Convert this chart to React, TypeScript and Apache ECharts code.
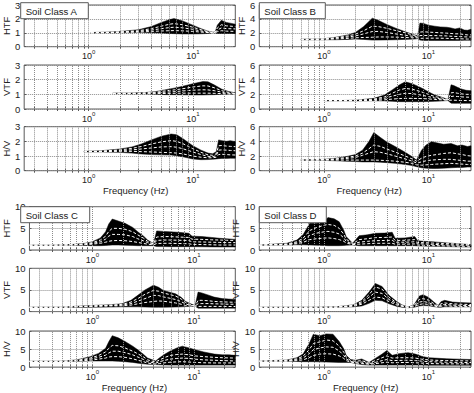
import React, { useEffect, useRef } from "react";
import * as echarts from "echarts";

// ---------- tick / grid values ----------
const gridFreqs = [0.3, 0.4, 0.5, 0.6, 0.7, 0.8, 0.9, 1, 2, 3, 4, 5, 6, 7, 8, 9, 10, 20];
const freqMin = 0.24;
const freqMax = 25.6;
const classNames = ["Soil Class A", "Soil Class B", "Soil Class C", "Soil Class D"];
const rowNames = ["HTF", "VTF", "H/V"];
const yMaxByClass = [3, 6, 10, 10];
const yStepByClass = [1, 2, 5, 5];

// ---------- Soil Class A ----------
const fA_HTF = [1.05, 1.5, 2, 3, 4, 5, 6, 6.6, 8, 10, 12, 14, 15.5, 16.4, 17.2, 18.8, 21, 25.6];
const upA_HTF = [1.02, 1.05, 1.1, 1.22, 1.45, 1.75, 1.95, 2.02, 1.85, 1.55, 1.3, 1.12, 1.05, 1.05, 1.55, 1.9, 1.75, 1.62];
const loA_HTF = [0.98, 1.0, 1.0, 1.02, 1.0, 0.98, 0.95, 0.94, 0.92, 0.92, 0.93, 0.95, 0.98, 0.98, 0.95, 0.95, 0.95, 0.95];
const w1A_HTF = [1.0, 1.03, 1.07, 1.15, 1.3, 1.48, 1.62, 1.66, 1.58, 1.4, 1.22, 1.08, 1.02, 1.02, 1.35, 1.58, 1.5, 1.45];
const w2A_HTF = [1.0, 1.02, 1.05, 1.1, 1.2, 1.3, 1.38, 1.4, 1.36, 1.25, 1.13, 1.05, 1.01, 1.01, 1.2, 1.35, 1.3, 1.28];
const w3A_HTF = [1.0, 1.01, 1.03, 1.05, 1.1, 1.13, 1.15, 1.16, 1.14, 1.1, 1.05, 1.02, 1.0, 1.0, 1.08, 1.15, 1.12, 1.1];

const fA_VTF = [1.7, 2.5, 3.5, 4.5, 5.5, 6.6, 8, 10, 12.5, 14, 16, 19, 22, 25.6];
const upA_VTF = [1.09, 1.09, 1.12, 1.2, 1.32, 1.42, 1.55, 1.72, 1.87, 1.85, 1.65, 1.35, 1.2, 1.1];
const loA_VTF = [1.05, 1.03, 1.02, 1.0, 0.98, 0.98, 0.97, 0.96, 0.96, 0.97, 0.98, 1.0, 1.0, 1.0];
const w1A_VTF = [1.07, 1.07, 1.1, 1.15, 1.24, 1.3, 1.38, 1.5, 1.58, 1.57, 1.45, 1.25, 1.13, 1.06];
const w2A_VTF = [1.06, 1.06, 1.07, 1.1, 1.15, 1.18, 1.23, 1.28, 1.31, 1.3, 1.25, 1.15, 1.08, 1.04];
const w3A_VTF = [1.06, 1.05, 1.04, 1.05, 1.06, 1.07, 1.08, 1.08, 1.08, 1.08, 1.07, 1.05, 1.03, 1.02];

const fA_HV = [0.9, 1.3, 2, 2.6, 3.2, 4, 5, 6.2, 7, 8, 10, 12, 14, 15.5, 16.8, 17.7, 19, 21, 23, 25.6];
const upA_HV = [1.32, 1.36, 1.48, 1.62, 1.82, 2.1, 2.35, 2.5, 2.45, 2.2, 1.7, 1.4, 1.2, 1.15, 1.3, 2.1, 2.05, 2.0, 2.05, 1.98];
const loA_HV = [1.28, 1.28, 1.25, 1.2, 1.14, 1.1, 1.08, 1.07, 1.02, 0.95, 0.8, 0.75, 0.76, 0.78, 0.8, 0.82, 0.84, 0.84, 0.85, 0.85];
const w1A_HV = [1.3, 1.33, 1.42, 1.52, 1.65, 1.82, 1.97, 2.05, 2.0, 1.85, 1.5, 1.25, 1.08, 1.05, 1.15, 1.7, 1.72, 1.68, 1.66, 1.64];
const w2A_HV = [1.3, 1.32, 1.37, 1.42, 1.48, 1.55, 1.62, 1.64, 1.6, 1.5, 1.28, 1.1, 0.98, 0.96, 1.02, 1.4, 1.42, 1.4, 1.38, 1.36];
const w3A_HV = [1.3, 1.3, 1.32, 1.32, 1.3, 1.28, 1.25, 1.23, 1.2, 1.15, 1.0, 0.92, 0.88, 0.88, 0.92, 1.1, 1.12, 1.1, 1.08, 1.07];

// ---------- Soil Class B ----------
const fB_HTF = [0.6, 1.0, 1.3, 1.7, 2.0, 2.4, 2.9, 3.3, 4, 4.8, 6, 7.4, 7.9, 8.3, 9, 10, 11.5, 13, 15, 16.5, 18, 20, 22, 23.7, 25.6];
const upB_HTF = [1.08, 1.15, 1.36, 1.7, 2.05, 2.9, 4.1, 3.8, 3.2, 2.7, 2.15, 1.7, 1.6, 3.4, 3.35, 3.1, 2.95, 2.85, 2.8, 2.7, 2.55, 2.7, 2.4, 2.36, 2.5];
const loB_HTF = [1.0, 1.0, 1.0, 1.05, 1.1, 1.05, 0.95, 0.95, 0.98, 1.0, 1.05, 1.1, 1.15, 0.95, 0.9, 0.9, 0.9, 0.9, 0.9, 0.9, 0.9, 0.9, 0.92, 0.92, 0.92];
const w1B_HTF = [1.05, 1.12, 1.3, 1.55, 1.8, 2.3, 2.95, 2.9, 2.65, 2.35, 2.0, 1.6, 1.55, 2.1, 2.15, 2.1, 2.05, 2.0, 1.95, 1.9, 1.85, 1.85, 1.75, 1.7, 1.7];
const w2B_HTF = [1.03, 1.1, 1.22, 1.4, 1.55, 1.85, 2.18, 2.2, 2.05, 1.85, 1.65, 1.45, 1.4, 1.6, 1.62, 1.6, 1.6, 1.58, 1.55, 1.5, 1.48, 1.46, 1.42, 1.4, 1.4];
const w3B_HTF = [1.0, 1.05, 1.12, 1.2, 1.28, 1.33, 1.36, 1.4, 1.4, 1.38, 1.32, 1.28, 1.27, 1.2, 1.22, 1.22, 1.23, 1.22, 1.2, 1.18, 1.15, 1.14, 1.12, 1.1, 1.1];

const fB_VTF = [1.0, 1.5, 2, 3, 3.8, 4.5, 5.3, 6, 7, 8.5, 10, 11.5, 13.5, 15.4, 16.5, 17.5, 19, 21, 23, 25.6];
const upB_VTF = [1.16, 1.16, 1.2, 1.45, 1.9, 2.6, 3.3, 3.7, 3.45, 2.9, 2.35, 1.9, 1.6, 1.3, 3.3, 3.2, 2.95, 2.7, 2.55, 2.5];
const loB_VTF = [1.1, 1.1, 1.1, 1.12, 1.1, 1.05, 1.0, 1.0, 1.0, 1.0, 1.02, 1.05, 1.1, 1.15, 0.8, 0.77, 0.77, 0.77, 0.77, 0.77];
const w1B_VTF = [1.14, 1.14, 1.18, 1.35, 1.65, 2.15, 2.6, 2.8, 2.7, 2.35, 2.0, 1.7, 1.5, 1.25, 2.2, 2.25, 2.15, 2.05, 2.0, 2.0];
const w2B_VTF = [1.13, 1.13, 1.15, 1.25, 1.45, 1.75, 2.0, 2.14, 2.1, 1.9, 1.7, 1.5, 1.35, 1.22, 1.7, 1.75, 1.7, 1.65, 1.62, 1.6];
const w3B_VTF = [1.12, 1.12, 1.13, 1.16, 1.25, 1.35, 1.42, 1.45, 1.45, 1.42, 1.38, 1.3, 1.25, 1.2, 1.2, 1.2, 1.18, 1.16, 1.15, 1.14];

const fB_HV = [0.6, 1.0, 1.3, 1.6, 2.0, 2.34, 2.7, 3.0, 3.5, 4, 4.8, 6, 7, 7.7, 8.6, 9.5, 10.7, 12, 14, 16.5, 19, 21, 23.7, 25.6];
const upB_HV = [1.48, 1.55, 1.7, 1.9, 2.2, 2.8, 4.0, 5.2, 4.5, 3.9, 3.3, 2.5, 1.9, 1.45, 2.8, 3.5, 3.95, 3.8, 3.6, 3.7, 3.4, 3.5, 3.3, 3.4];
const loB_HV = [1.42, 1.4, 1.35, 1.3, 1.25, 1.2, 1.2, 1.2, 1.15, 1.1, 1.0, 0.85, 0.7, 0.55, 0.4, 0.35, 0.3, 0.3, 0.35, 0.4, 0.45, 0.45, 0.5, 0.5];
const w1B_HV = [1.45, 1.52, 1.62, 1.78, 2.0, 2.4, 3.0, 3.5, 3.3, 2.95, 2.55, 2.0, 1.6, 1.3, 1.7, 1.95, 2.1, 2.2, 2.35, 2.45, 2.3, 2.2, 2.05, 2.0];
const w2B_HV = [1.45, 1.5, 1.55, 1.65, 1.8, 2.1, 2.4, 2.6, 2.5, 2.3, 2.0, 1.6, 1.3, 1.05, 1.2, 1.35, 1.45, 1.5, 1.55, 1.55, 1.45, 1.4, 1.3, 1.3];
const w3B_HV = [1.45, 1.45, 1.45, 1.45, 1.45, 1.45, 1.45, 1.45, 1.42, 1.38, 1.3, 1.15, 1.0, 0.8, 0.75, 0.8, 0.85, 0.9, 0.95, 1.0, 0.95, 0.9, 0.85, 0.85];

// ---------- Soil Class C ----------
const fC_HTF = [0.24, 0.4, 0.66, 0.85, 1.0, 1.2, 1.35, 1.45, 1.57, 1.8, 2.1, 2.5, 2.8, 3.2, 3.5, 4.0, 4.3, 5, 5.8, 7, 8.9, 9.6, 12, 15, 18, 21, 25.6];
const upC_HTF = [1.14, 1.14, 1.3, 1.55, 1.9, 2.8, 4.2, 6.0, 7.15, 6.7, 6.15, 5.2, 4.2, 3.2, 2.3, 1.5, 4.4, 4.3, 4.2, 4.1, 3.85, 3.2, 3.1, 2.9, 2.7, 2.6, 2.45];
const loC_HTF = [1.08, 1.08, 1.1, 1.05, 1.0, 1.0, 1.05, 1.1, 1.15, 1.15, 1.1, 1.05, 1.0, 1.0, 1.0, 1.0, 0.8, 0.78, 0.77, 0.77, 0.77, 0.77, 0.75, 0.72, 0.7, 0.7, 0.7];
const w1C_HTF = [1.12, 1.12, 1.25, 1.45, 1.7, 2.3, 3.2, 4.3, 5.0, 5.0, 4.8, 4.2, 3.5, 2.7, 2.0, 1.4, 3.0, 3.1, 3.1, 3.0, 2.9, 2.5, 2.45, 2.35, 2.3, 2.25, 2.2];
const w2C_HTF = [1.12, 1.12, 1.2, 1.35, 1.5, 1.9, 2.5, 3.2, 3.6, 3.6, 3.5, 3.1, 2.6, 2.1, 1.7, 1.3, 2.2, 2.3, 2.3, 2.25, 2.2, 1.9, 1.85, 1.8, 1.75, 1.7, 1.7];
const w3C_HTF = [1.12, 1.12, 1.15, 1.25, 1.35, 1.55, 1.8, 2.0, 2.15, 2.2, 2.15, 1.95, 1.75, 1.5, 1.35, 1.2, 1.5, 1.55, 1.55, 1.5, 1.45, 1.3, 1.25, 1.2, 1.15, 1.15, 1.15];

const fC_VTF = [0.24, 0.5, 0.95, 1.5, 1.95, 2.4, 2.8, 3.3, 4.0, 4.5, 5.0, 6.6, 7.5, 8.3, 9.3, 10.3, 11, 12, 14, 15.8, 19, 22, 25.6];
const upC_VTF = [1.03, 1.05, 1.4, 1.6, 1.8, 2.6, 3.75, 5.0, 6.1, 5.6, 4.9, 4.1, 3.3, 2.35, 1.8, 1.4, 4.5, 4.3, 3.8, 3.35, 3.0, 2.9, 2.8];
const loC_VTF = [0.97, 0.97, 1.0, 1.05, 1.1, 1.1, 1.1, 1.05, 1.0, 1.0, 1.0, 1.05, 1.1, 1.15, 1.2, 1.25, 0.8, 0.8, 0.8, 0.8, 0.8, 0.8, 0.8];
const w1C_VTF = [1.0, 1.02, 1.3, 1.5, 1.65, 2.2, 3.0, 4.0, 4.9, 4.7, 4.3, 3.6, 2.9, 2.1, 1.6, 1.35, 2.6, 2.6, 2.5, 2.35, 2.25, 2.2, 2.15];
const w2C_VTF = [1.0, 1.0, 1.25, 1.4, 1.5, 1.85, 2.4, 3.0, 3.75, 3.7, 3.4, 2.8, 2.3, 1.75, 1.45, 1.3, 1.8, 1.85, 1.85, 1.8, 1.75, 1.7, 1.7];
const w3C_VTF = [1.0, 1.0, 1.2, 1.3, 1.35, 1.5, 1.8, 2.1, 2.35, 2.45, 2.4, 2.0, 1.7, 1.4, 1.3, 1.25, 1.2, 1.2, 1.2, 1.2, 1.2, 1.18, 1.18];

const fC_HV = [0.24, 0.5, 0.7, 0.95, 1.15, 1.35, 1.45, 1.57, 1.8, 2.1, 2.5, 2.8, 3.2, 3.5, 4.2, 4.6, 5.2, 5.8, 6.8, 7.7, 9, 10.3, 12.5, 15.9, 19, 22, 25.6];
const upC_HV = [1.63, 1.66, 2.0, 2.9, 3.8, 5.2, 7.0, 8.7, 8.1, 7.1, 5.8, 4.8, 3.5, 2.5, 1.7, 2.6, 3.6, 4.4, 5.3, 5.8, 5.3, 4.8, 4.2, 3.6, 3.4, 3.4, 3.25];
const loC_HV = [1.56, 1.56, 1.6, 1.7, 1.7, 1.7, 1.7, 1.7, 1.6, 1.5, 1.3, 1.1, 0.9, 0.8, 0.7, 0.65, 0.6, 0.55, 0.55, 0.55, 0.55, 0.55, 0.55, 0.55, 0.55, 0.55, 0.55];
const w1C_HV = [1.6, 1.6, 1.85, 2.5, 3.2, 4.2, 5.2, 6.0, 5.9, 5.3, 4.4, 3.7, 2.8, 2.0, 1.4, 2.0, 2.7, 3.2, 3.5, 3.6, 3.4, 3.1, 2.9, 2.7, 2.6, 2.55, 2.5];
const w2C_HV = [1.6, 1.6, 1.75, 2.2, 2.7, 3.3, 3.9, 4.4, 4.4, 4.0, 3.4, 2.8, 2.1, 1.5, 1.1, 1.5, 1.9, 2.2, 2.4, 2.5, 2.4, 2.2, 2.0, 1.9, 1.8, 1.75, 1.7];
const w3C_HV = [1.6, 1.6, 1.7, 1.9, 2.2, 2.5, 2.8, 2.9, 2.9, 2.7, 2.3, 1.9, 1.5, 1.1, 0.85, 1.0, 1.2, 1.35, 1.45, 1.5, 1.4, 1.3, 1.2, 1.15, 1.15, 1.15, 1.15];

// ---------- Soil Class D ----------
const fD_HTF = [0.24, 0.44, 0.55, 0.63, 0.73, 0.85, 1.0, 1.09, 1.25, 1.4, 1.55, 1.63, 1.88, 2.17, 2.6, 3.1, 3.8, 4.5, 4.8, 6, 7.4, 7.9, 9, 11, 14, 18, 23.7, 25.6];
const upD_HTF = [1.15, 1.55, 2.3, 3.5, 6.15, 6.2, 6.5, 7.5, 7.2, 6.5, 4.5, 3.1, 1.55, 3.3, 3.5, 3.85, 3.9, 4.1, 2.7, 2.8, 3.1, 2.15, 2.0, 1.9, 1.7, 1.5, 1.3, 1.2];
const loD_HTF = [1.08, 1.15, 1.2, 1.2, 1.15, 1.1, 1.05, 1.0, 1.0, 1.0, 1.05, 1.1, 1.15, 1.0, 1.0, 1.0, 1.0, 1.0, 1.0, 1.0, 1.0, 0.95, 0.9, 0.85, 0.8, 0.75, 0.7, 0.7];
const w1D_HTF = [1.12, 1.4, 1.9, 2.7, 4.5, 5.2, 5.7, 5.9, 5.7, 5.0, 3.6, 2.5, 1.45, 2.4, 2.6, 2.85, 2.9, 3.0, 2.2, 2.25, 2.4, 1.75, 1.7, 1.6, 1.5, 1.4, 1.3, 1.25];
const w2D_HTF = [1.12, 1.3, 1.65, 2.2, 3.4, 3.9, 4.2, 4.3, 4.1, 3.7, 2.8, 2.0, 1.35, 1.8, 2.0, 2.15, 2.2, 2.25, 1.8, 1.8, 1.9, 1.45, 1.4, 1.3, 1.2, 1.15, 1.1, 1.1];
const w3D_HTF = [1.12, 1.22, 1.45, 1.75, 2.4, 2.6, 2.75, 2.8, 2.65, 2.4, 2.0, 1.6, 1.25, 1.35, 1.45, 1.55, 1.55, 1.55, 1.35, 1.35, 1.4, 1.15, 1.1, 1.0, 0.95, 0.9, 0.85, 0.85];

const fD_VTF = [0.24, 0.6, 1.3, 1.9, 2.3, 2.7, 3.1, 3.6, 4.2, 5.0, 5.6, 6.4, 7.3, 8.2, 8.9, 10, 11.2, 12.4, 13.2, 14.3, 17, 20, 25.6];
const upD_VTF = [1.03, 1.03, 1.1, 1.55, 2.6, 4.5, 6.5, 5.8, 3.75, 2.3, 1.55, 1.05, 1.6, 3.6, 3.9, 3.3, 2.3, 1.4, 2.3, 2.6, 2.2, 2.1, 2.0];
const loD_VTF = [0.97, 0.97, 1.0, 1.1, 1.3, 1.9, 2.6, 2.5, 1.8, 1.2, 1.0, 0.9, 1.0, 1.3, 1.4, 1.35, 1.15, 1.0, 1.0, 1.1, 1.1, 1.1, 1.1];
const w1D_VTF = [1.0, 1.0, 1.04, 1.45, 2.3, 3.9, 5.7, 5.2, 3.3, 2.0, 1.4, 1.0, 1.45, 2.8, 3.0, 2.65, 1.9, 1.3, 1.8, 2.0, 1.8, 1.7, 1.65];
const w2D_VTF = [1.0, 1.0, 1.03, 1.35, 2.0, 3.3, 4.5, 4.2, 2.8, 1.75, 1.3, 0.98, 1.3, 2.2, 2.35, 2.1, 1.6, 1.2, 1.5, 1.65, 1.5, 1.45, 1.4];
const w3D_VTF = [1.0, 1.0, 1.02, 1.25, 1.7, 2.6, 3.35, 3.2, 2.3, 1.5, 1.2, 0.95, 1.15, 1.65, 1.8, 1.65, 1.35, 1.1, 1.25, 1.35, 1.25, 1.2, 1.2];

const fD_HV = [0.24, 0.44, 0.55, 0.63, 0.72, 0.79, 0.91, 1.05, 1.22, 1.4, 1.55, 1.63, 1.8, 2.0, 2.3, 2.7, 3.1, 3.6, 4.0, 4.5, 5.2, 6.4, 7.5, 8.6, 10, 11.5, 15, 20, 25.6];
const upD_HV = [1.7, 1.95, 2.6, 3.6, 6.5, 9.1, 8.7, 9.2, 9.1, 7.1, 5.0, 3.25, 2.1, 1.9, 2.25, 1.3, 2.4, 3.6, 4.6, 3.25, 3.7, 4.0, 3.6, 3.0, 2.6, 2.5, 2.3, 2.2, 2.1];
const loD_HV = [1.6, 1.6, 1.55, 1.5, 1.5, 1.5, 1.45, 1.4, 1.35, 1.3, 1.3, 1.3, 1.3, 1.0, 0.7, 0.55, 0.55, 0.55, 0.55, 0.55, 0.55, 0.55, 0.55, 0.55, 0.5, 0.5, 0.5, 0.5, 0.5];
const w1D_HV = [1.65, 1.85, 2.3, 3.0, 4.8, 6.5, 7.0, 7.5, 7.3, 5.8, 4.1, 2.8, 1.8, 1.6, 1.8, 1.1, 1.8, 2.6, 3.1, 2.5, 2.6, 2.6, 2.5, 2.2, 2.0, 1.9, 1.8, 1.75, 1.7];
const w2D_HV = [1.65, 1.75, 2.05, 2.5, 3.7, 4.8, 5.3, 5.6, 5.5, 4.5, 3.2, 2.3, 1.55, 1.35, 1.4, 0.95, 1.3, 1.8, 2.1, 1.8, 1.85, 1.9, 1.8, 1.65, 1.5, 1.45, 1.35, 1.3, 1.25];
const w3D_HV = [1.65, 1.65, 1.8, 2.0, 2.6, 3.2, 3.6, 3.7, 3.6, 3.1, 2.4, 1.8, 1.4, 1.15, 1.0, 0.8, 0.95, 1.2, 1.35, 1.2, 1.25, 1.3, 1.2, 1.1, 1.0, 0.95, 0.9, 0.9, 0.9];

type PanelData = { f: number[]; up: number[]; lo: number[]; w: number[][] };
const panelData: PanelData[][] = [
  [
    { f: fA_HTF, up: upA_HTF, lo: loA_HTF, w: [w1A_HTF, w2A_HTF, w3A_HTF] },
    { f: fA_VTF, up: upA_VTF, lo: loA_VTF, w: [w1A_VTF, w2A_VTF, w3A_VTF] },
    { f: fA_HV, up: upA_HV, lo: loA_HV, w: [w1A_HV, w2A_HV, w3A_HV] },
  ],
  [
    { f: fB_HTF, up: upB_HTF, lo: loB_HTF, w: [w1B_HTF, w2B_HTF, w3B_HTF] },
    { f: fB_VTF, up: upB_VTF, lo: loB_VTF, w: [w1B_VTF, w2B_VTF, w3B_VTF] },
    { f: fB_HV, up: upB_HV, lo: loB_HV, w: [w1B_HV, w2B_HV, w3B_HV] },
  ],
  [
    { f: fC_HTF, up: upC_HTF, lo: loC_HTF, w: [w1C_HTF, w2C_HTF, w3C_HTF] },
    { f: fC_VTF, up: upC_VTF, lo: loC_VTF, w: [w1C_VTF, w2C_VTF, w3C_VTF] },
    { f: fC_HV, up: upC_HV, lo: loC_HV, w: [w1C_HV, w2C_HV, w3C_HV] },
  ],
  [
    { f: fD_HTF, up: upD_HTF, lo: loD_HTF, w: [w1D_HTF, w2D_HTF, w3D_HTF] },
    { f: fD_VTF, up: upD_VTF, lo: loD_VTF, w: [w1D_VTF, w2D_VTF, w3D_VTF] },
    { f: fD_HV, up: upD_HV, lo: loD_HV, w: [w1D_HV, w2D_HV, w3D_HV] },
  ],
];

// ---------- layout ----------
const colLeft = [20.7, 259.3];
const plotW = 214.6;
const groupTops = [
  [2.7, 65, 126.7],
  [206.7, 268.3, 331],
];
const plotHs = [44, 43.3];
const boxW = [67.6, 66, 69, 67];
const freqLabelShift = [12, 8, 4, 1];
const FONT = "'Liberation Sans', Arial, Helvetica, sans-serif";
const FRAME = "#5a5a5a";

function buildOption() {
  const grids: any[] = [];
  const xAxes: any[] = [];
  const yAxes: any[] = [];
  const xAxesTop: any[] = [];
  const yAxesRight: any[] = [];
  const series: any[] = [];
  const graphics: any[] = [];
  let idx = 0;
  for (let c = 0; c < 4; c++) {
    const col = c % 2;
    const grp = Math.floor(c / 2);
    for (let r = 0; r < 3; r++) {
      const d = panelData[c][r];
      const top = groupTops[grp][r];
      const h = plotHs[grp];
      grids.push({
        left: colLeft[col],
        top,
        width: plotW,
        height: h,
        show: true,
        borderColor: FRAME,
        borderWidth: 1,
        backgroundColor: "transparent",
        z: 0,
      });
      xAxes.push({
        type: "log",
        logBase: 10,
        gridIndex: idx,
        position: "bottom",
        min: freqMin,
        max: freqMax,
        axisLine: { show: false },
        axisTick: { show: true, inside: true, length: 2, customValues: gridFreqs, lineStyle: { color: FRAME } },
        splitLine: { show: false },
        axisLabel: {
          margin: 2,
          color: "#222",
          formatter: (v: number) => {
            const l = Math.log10(v);
            const e = Math.round(l);
            return Math.abs(l - e) < 1e-6 ? `{b|10}{s|${e}}` : "";
          },
          rich: {
            b: { fontSize: 9, fontFamily: FONT, color: "#222", lineHeight: 12, verticalAlign: "bottom" },
            s: { fontSize: 6, fontFamily: FONT, color: "#222", lineHeight: 7, verticalAlign: "top" },
          },
        },
        name: r === 2 ? "Frequency (Hz)" : "",
        nameLocation: "middle",
        nameGap: 6,
        nameTextStyle: {
          fontSize: 9.5,
          fontFamily: FONT,
          color: "#222",
          verticalAlign: "top",
          padding: [0, 0, 0, freqLabelShift[c]],
        },
      });
      xAxesTop.push({
        type: "log",
        logBase: 10,
        gridIndex: idx,
        position: "top",
        min: freqMin,
        max: freqMax,
        axisLine: { show: false },
        axisTick: { show: true, inside: true, length: 2, customValues: gridFreqs, lineStyle: { color: FRAME } },
        splitLine: { show: false },
        axisLabel: { show: false },
      });
      yAxes.push({
        type: "value",
        gridIndex: idx,
        position: "left",
        min: 0,
        max: yMaxByClass[c],
        interval: yStepByClass[c],
        axisLine: { show: false },
        axisTick: { show: true, inside: true, length: 2, lineStyle: { color: FRAME } },
        splitLine: { show: true, lineStyle: { type: "dotted", color: "#8c8c8c", width: 1 } },
        axisLabel: { fontSize: 9.5, fontFamily: FONT, color: "#222", margin: 4 },
        name: rowNames[r],
        nameLocation: "middle",
        nameRotate: 90,
        nameGap: 9,
        nameTextStyle: { fontSize: 9.5, fontFamily: FONT, color: "#222" },
      });
      yAxesRight.push({
        type: "value",
        gridIndex: idx,
        position: "right",
        min: 0,
        max: yMaxByClass[c],
        interval: yStepByClass[c],
        axisLine: { show: false },
        axisTick: { show: true, inside: true, length: 2, lineStyle: { color: FRAME } },
        splitLine: { show: false },
        axisLabel: { show: false },
      });
      // vertical log grid lines
      series.push({
        type: "line",
        xAxisIndex: idx,
        yAxisIndex: idx,
        data: [],
        silent: true,
        z: 1,
        markLine: {
          silent: true,
          symbol: ["none", "none"],
          label: { show: false },
          lineStyle: { type: "dotted", color: "#8c8c8c", width: 1 },
          emphasis: { disabled: true },
          data: gridFreqs.map((v) => ({ xAxis: v })),
        },
      });
      // black envelope band
      series.push({
        type: "custom",
        xAxisIndex: idx,
        yAxisIndex: idx,
        z: 2,
        clip: true,
        silent: true,
        data: d.f.map((x, k) => [x, d.up[k], d.lo[k]]),
        encode: { x: 0, y: [1, 2] },
        renderItem: (params: any, api: any) => {
          if (params.dataIndex !== 0) return null;
          const pts: number[][] = [];
          for (let k = 0; k < d.f.length; k++) pts.push(api.coord([d.f[k], d.up[k]]));
          for (let k = d.f.length - 1; k >= 0; k--) pts.push(api.coord([d.f[k], d.lo[k]]));
          return {
            type: "polygon",
            shape: { points: pts },
            style: { fill: "#000", stroke: "#000", lineWidth: 0.5 },
          };
        },
      });
      // white statistic lines
      d.w.forEach((arr) => {
        series.push({
          type: "line",
          xAxisIndex: idx,
          yAxisIndex: idx,
          z: 3,
          silent: true,
          showSymbol: false,
          symbol: "none",
          data: d.f.map((x, k) => [x, arr[k]]),
          lineStyle: { color: "#ffffff", width: 1, type: [3, 2] },
        });
      });
      if (r === 0) {
        graphics.push({
          type: "rect",
          z: 100,
          shape: { x: colLeft[col], y: top, width: boxW[c], height: 16 },
          style: { fill: "#fff", stroke: FRAME, lineWidth: 1 },
        });
        graphics.push({
          type: "text",
          z: 101,
          x: colLeft[col] + 5,
          y: top + 8.3,
          style: {
            text: classNames[c],
            font: `9.6px ${FONT}`,
            fill: "#1a1a1a",
            verticalAlign: "middle",
            align: "left",
          },
        });
      }
      idx++;
    }
  }
  return {
    animation: false,
    backgroundColor: "#fff",
    textStyle: { fontFamily: FONT },
    grid: grids,
    xAxis: [...xAxes, ...xAxesTop],
    yAxis: [...yAxes, ...yAxesRight],
    series,
    graphic: graphics,
  };
}

export default function App() {
  const ref = useRef<HTMLDivElement>(null);
  useEffect(() => {
    if (!ref.current) return;
    const chart = echarts.init(ref.current, undefined, { renderer: "svg" });
    chart.setOption(buildOption() as any);
    return () => chart.dispose();
  }, []);
  return (
    <div
      ref={ref}
      style={{ position: "fixed", left: 0, top: 0, width: 474, height: 393, background: "#fff" }}
    />
  );
}
